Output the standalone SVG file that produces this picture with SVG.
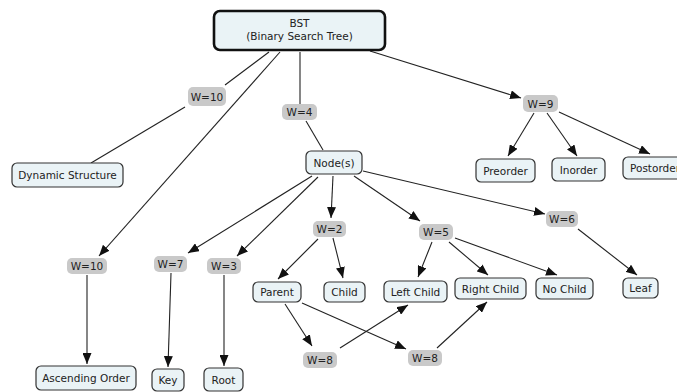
<svg xmlns="http://www.w3.org/2000/svg" width="677" height="392" viewBox="0 0 677 392">
<style>
.n rect{fill:#eaf3f6;stroke:#333;stroke-width:1.2}
.l rect{fill:#c9c9c9;stroke:none}
text{font-family:"DejaVu Sans",Verdana,sans-serif;font-size:10.5px;fill:#222;text-anchor:middle}
#edges line{stroke:#222;stroke-width:1.1}
.a{marker-end:url(#arr)}
</style>
<defs>
<marker id="arr" markerUnits="userSpaceOnUse" markerWidth="11" markerHeight="9" refX="11" refY="4.5" orient="auto">
<path d="M0,0 L11,4.5 L0,9 z" fill="#111"/>
</marker>
</defs>
<rect width="677" height="392" fill="#fff"/>
<g id="edges">
<line x1="269" y1="52" x2="225" y2="85"/>
<line x1="185" y1="107" x2="91" y2="163"/>
<line x1="280" y1="52" x2="99" y2="256" class="a"/>
<line x1="300" y1="52" x2="300" y2="104"/>
<line x1="306" y1="121" x2="323" y2="150"/>
<line x1="370" y1="51" x2="521" y2="98" class="a"/>
<line x1="534" y1="113" x2="508" y2="156" class="a"/>
<line x1="547" y1="113" x2="577" y2="156" class="a"/>
<line x1="559" y1="112" x2="650" y2="154" class="a"/>
<line x1="87" y1="275" x2="87" y2="364" class="a"/>
<line x1="171" y1="273" x2="168" y2="367" class="a"/>
<line x1="224" y1="275" x2="224" y2="366" class="a"/>
<line x1="312" y1="176" x2="188" y2="253" class="a"/>
<line x1="318" y1="177" x2="237" y2="256" class="a"/>
<line x1="333" y1="176" x2="331" y2="218" class="a"/>
<line x1="354" y1="176" x2="420" y2="221" class="a"/>
<line x1="363" y1="171" x2="545" y2="214" class="a"/>
<line x1="318" y1="239" x2="278" y2="279" class="a"/>
<line x1="333" y1="238" x2="343" y2="278" class="a"/>
<line x1="432" y1="242" x2="418" y2="277" class="a"/>
<line x1="449" y1="242" x2="488" y2="275" class="a"/>
<line x1="455" y1="238" x2="557" y2="275" class="a"/>
<line x1="578" y1="229" x2="637" y2="275" class="a"/>
<line x1="285" y1="304" x2="312" y2="346" class="a"/>
<line x1="340" y1="348" x2="408" y2="305" class="a"/>
<line x1="302" y1="303" x2="406" y2="349" class="a"/>
<line x1="437" y1="348" x2="487" y2="302" class="a"/>
</g>
<g id="bst" class="n"><rect x="214" y="11" width="171" height="39" rx="6" style="stroke-width:2.6;stroke:#111"/><text x="299.5" y="27">BST</text><text x="299.5" y="39.5">(Binary Search Tree)</text></g>
<g id="w10a" class="l"><rect x="188" y="87" width="38" height="19" rx="5"/><text x="207" y="100.5">W=10</text></g>
<g id="w4" class="l"><rect x="282" y="104" width="35" height="16" rx="5"/><text x="299.5" y="116">W=4</text></g>
<g id="w9" class="l"><rect x="523" y="95" width="35" height="17" rx="5"/><text x="540.5" y="107.5">W=9</text></g>
<g id="dyn" class="n"><rect x="12" y="163" width="111" height="24" rx="5"/><text x="67.5" y="179">Dynamic Structure</text></g>
<g id="preorder" class="n"><rect x="476" y="159" width="59" height="23" rx="5"/><text x="505.5" y="174.5">Preorder</text></g>
<g id="inorder" class="n"><rect x="552" y="158" width="53" height="23" rx="5"/><text x="578.5" y="173.5">Inorder</text></g>
<g id="postorder" class="n"><rect x="623" y="157" width="64" height="22" rx="5"/><text x="630" y="172" style="text-anchor:start">Postorder</text></g>
<g id="nodes" class="n"><rect x="306" y="151" width="56" height="23" rx="5"/><text x="334" y="166.5">Node(s)</text></g>
<g id="w10b" class="l"><rect x="67" y="258" width="40" height="16" rx="5"/><text x="87" y="270">W=10</text></g>
<g id="w7" class="l"><rect x="154" y="256" width="33" height="16" rx="5"/><text x="170.5" y="268">W=7</text></g>
<g id="w3" class="l"><rect x="207" y="258" width="34" height="16" rx="5"/><text x="224" y="270">W=3</text></g>
<g id="w2" class="l"><rect x="313" y="221" width="33" height="16" rx="5"/><text x="329.5" y="233">W=2</text></g>
<g id="w5" class="l"><rect x="419" y="224" width="34" height="16" rx="5"/><text x="436" y="236">W=5</text></g>
<g id="w6" class="l"><rect x="546" y="211" width="32" height="16" rx="5"/><text x="562" y="223">W=6</text></g>
<g id="asc" class="n"><rect x="36" y="366" width="100" height="24" rx="5"/><text x="86" y="382">Ascending Order</text></g>
<g id="key" class="n"><rect x="152" y="369" width="32" height="22" rx="5"/><text x="168" y="384">Key</text></g>
<g id="root" class="n"><rect x="204" y="368" width="39" height="23" rx="5"/><text x="223.5" y="383.5">Root</text></g>
<g id="parent" class="n"><rect x="253" y="282" width="48" height="20" rx="5"/><text x="277" y="296">Parent</text></g>
<g id="child" class="n"><rect x="324" y="282" width="41" height="20" rx="5"/><text x="344.5" y="296">Child</text></g>
<g id="leftchild" class="n"><rect x="384" y="281" width="63" height="21" rx="5"/><text x="415.5" y="295.5">Left Child</text></g>
<g id="rightchild" class="n"><rect x="455" y="278" width="71" height="21" rx="5"/><text x="490.5" y="292.5">Right Child</text></g>
<g id="nochild" class="n"><rect x="536" y="278" width="57" height="21" rx="5"/><text x="564.5" y="292.5">No Child</text></g>
<g id="leaf" class="n"><rect x="623" y="278" width="35" height="20" rx="5"/><text x="640.5" y="292">Leaf</text></g>
<g id="w8a" class="l"><rect x="303" y="352" width="34" height="16" rx="5"/><text x="320" y="364">W=8</text></g>
<g id="w8b" class="l"><rect x="408" y="350" width="34" height="16" rx="5"/><text x="425" y="362">W=8</text></g>
</svg>
